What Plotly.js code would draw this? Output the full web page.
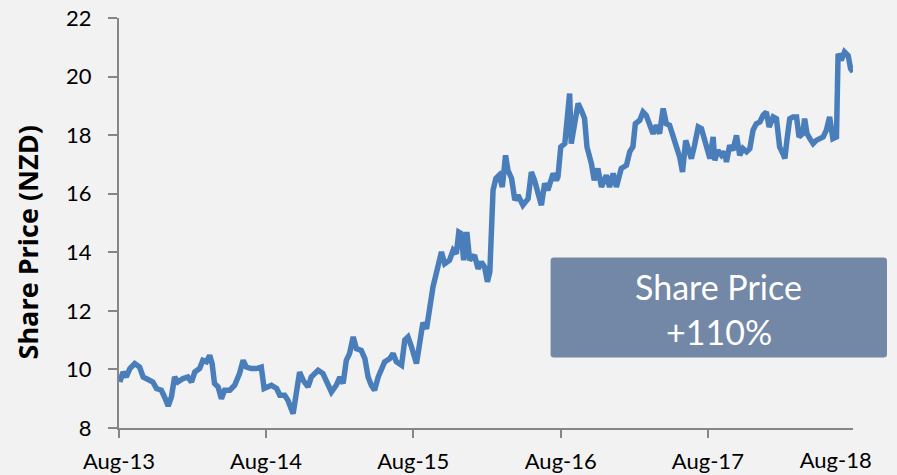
<!DOCTYPE html>
<html>
<head>
<meta charset="utf-8">
<script src="https://cdn.plot.ly/plotly-3.0.1.min.js"></script>
<style>html,body{margin:0;padding:0;background:#f2f2f2;}#chart{width:897px;height:475px;}</style>
</head>
<body>
<div id="chart"></div>
<script>
const dates = [
"2013-08-03","2013-08-11","2013-08-19","2013-08-28","2013-09-09","2013-09-21","2013-09-30","2013-10-12","2013-10-24","2013-11-02",
"2013-11-14","2013-11-22","2013-12-01","2013-12-09","2013-12-17","2013-12-25","2014-01-07","2014-01-19","2014-01-28","2014-02-05",
"2014-02-17","2014-02-25","2014-03-06","2014-03-14","2014-03-20","2014-03-26","2014-04-04","2014-04-12","2014-04-20","2014-05-03",
"2014-05-15","2014-05-27","2014-06-05","2014-06-13","2014-06-25","2014-07-08","2014-07-20","2014-07-27","2014-08-06","2014-08-14",
"2014-08-27","2014-09-04","2014-09-16","2014-09-24","2014-10-07","2014-10-15","2014-10-23","2014-11-01","2014-11-13","2014-11-21",
"2014-12-08","2014-12-20","2014-12-29","2015-01-10","2015-01-22","2015-01-31","2015-02-08","2015-02-16","2015-02-24","2015-03-05",
"2015-03-13","2015-03-25","2015-04-03","2015-04-11","2015-04-19","2015-04-27","2015-05-06","2015-05-14","2015-05-22","2015-06-04",
"2015-06-12","2015-06-20","2015-07-03","2015-07-11","2015-07-19","2015-07-27","2015-08-09","2015-08-17","2015-08-25","2015-09-03",
"2015-09-11","2015-09-19","2015-09-27","2015-10-06","2015-10-10","2015-10-18","2015-10-30","2015-11-08","2015-11-16","2015-11-22",
"2015-11-28","2015-12-04","2015-12-12","2015-12-19","2015-12-31","2016-01-09","2016-01-17","2016-01-25","2016-02-01","2016-02-07",
"2016-02-11","2016-02-15","2016-02-22","2016-03-01","2016-03-09","2016-03-17","2016-03-23","2016-04-01","2016-04-09","2016-04-17",
"2016-04-29","2016-05-12","2016-05-20","2016-05-28","2016-06-06","2016-06-14","2016-06-22","2016-06-30","2016-07-13","2016-07-21",
"2016-07-25","2016-08-01","2016-08-11","2016-08-18","2016-08-23","2016-08-27","2016-09-05","2016-09-13","2016-09-21","2016-09-29",
"2016-10-05","2016-10-16","2016-10-23","2016-11-01","2016-11-10","2016-11-22","2016-11-30","2016-12-09","2016-12-17","2016-12-29",
"2017-01-11","2017-01-19","2017-01-27","2017-02-02","2017-02-13","2017-02-21","2017-03-01","2017-03-10","2017-03-18","2017-03-26",
"2017-04-03","2017-04-12","2017-04-20","2017-04-28","2017-05-06","2017-05-15","2017-05-23","2017-05-30","2017-06-07","2017-06-13",
"2017-06-21","2017-06-29","2017-07-08","2017-07-16","2017-07-24","2017-07-28","2017-08-06","2017-08-14","2017-08-18","2017-08-26",
"2017-09-04","2017-09-12","2017-09-16","2017-09-24","2017-10-02","2017-10-11","2017-10-19","2017-10-27","2017-11-05","2017-11-13",
"2017-11-21","2017-11-29","2017-12-08","2017-12-16","2017-12-24","2017-12-31","2018-01-10","2018-01-18","2018-01-26","2018-02-03",
"2018-02-08","2018-02-13","2018-02-20","2018-02-28","2018-03-09","2018-03-15","2018-03-24","2018-03-29","2018-04-04","2018-04-11",
"2018-04-19","2018-04-27","2018-05-05","2018-05-14","2018-05-22","2018-05-30","2018-06-07","2018-06-16","2018-06-20","2018-06-28",
"2018-07-06","2018-07-15","2018-07-21","2018-07-27"
];
const sharePrice = [
9.57,9.91,9.74,10.03,10.2,10.08,9.74,9.63,9.57,9.35,
9.29,9.06,8.75,9.06,9.74,9.57,9.69,9.74,9.57,9.91,
10.03,10.31,10.26,10.48,10.2,9.52,9.4,9.0,9.29,9.29,
9.46,9.86,10.31,10.08,10.03,10.03,10.08,9.35,9.4,9.46,
9.35,9.12,9.12,8.95,8.49,9.29,9.91,9.63,9.4,9.74,
9.97,9.86,9.57,9.23,9.46,9.74,9.52,10.31,10.54,11.11,
10.71,10.65,10.37,9.74,9.46,9.29,9.74,10.03,10.26,10.37,
10.54,10.26,10.14,11.0,11.11,10.8,10.2,10.9,11.6,11.39,
12.13,12.82,13.27,13.84,14.01,13.61,13.73,14.07,13.95,14.69,
14.64,13.73,14.69,13.73,13.9,13.44,13.67,13.5,12.99,13.33,
15.32,16.12,16.52,16.63,16.23,17.31,16.8,16.52,15.78,15.95,
15.61,15.83,16.74,16.46,16.0,15.61,16.35,16.12,16.69,16.46,
16.57,17.6,17.71,18.68,19.42,17.71,18.62,19.08,18.85,18.57,
17.6,17.03,16.46,16.86,16.23,16.63,16.23,16.69,16.23,16.86,
16.97,17.43,17.6,18.39,18.51,18.79,18.68,18.28,18.05,18.34,
18.05,18.91,18.39,18.34,18.05,17.6,17.26,16.74,17.82,17.6,
17.2,17.66,18.28,18.22,17.88,17.65,17.2,17.94,17.14,17.48,
17.31,17.43,17.08,17.65,17.48,17.99,17.31,17.54,17.43,17.54,
18.17,18.39,18.45,18.68,18.79,18.28,18.62,18.56,17.6,17.37,
17.2,17.82,18.56,18.62,18.62,17.94,18.05,18.56,18.05,17.88,
17.71,17.82,17.88,17.94,18.17,18.62,17.88,17.94,20.78,20.56,
20.84,20.72,20.27,20.16
];
const xTickDates = ["2013-08-01","2014-08-01","2015-08-01","2016-08-01","2017-08-01"];
const xTickLabels = ["Aug-13","Aug-14","Aug-15","Aug-16","Aug-17"];
const lastTickDate = ["2018-06-14"];
const lastTickLabel = ["Aug-18"];
const yTicks = [8,10,12,14,16,18,20,22];
const yTitle = "Share Price (NZD)";
const boxLines = ["Share Price","+110%"];

const axisColor = "#868686";
const fontFam = "Lato, 'Open Sans', sans-serif";
const titleFam = "'Open Sans', Lato, sans-serif";

const trace = {
  x: dates, y: sharePrice, type: "scatter", mode: "lines",
  line: {color: "#4a7ebb", width: 5.5}, hoverinfo: "skip"
};
const dummy = {x: [dates[0]], y: [null], xaxis: "x2", yaxis: "y", type: "scatter", mode: "lines", showlegend: false, hoverinfo: "skip"};

// rounded box (paper coords)
const bx0 = 0.588, bx1 = 1.0463, by0 = 0.1717, by1 = 0.4156, rx = 0.0045, ry = 0.008;
const boxPath = `M ${bx0+rx},${by0} L ${bx1-rx},${by0} Q ${bx1},${by0} ${bx1},${by0+ry} L ${bx1},${by1-ry} Q ${bx1},${by1} ${bx1-rx},${by1} L ${bx0+rx},${by1} Q ${bx0},${by1} ${bx0},${by1-ry} L ${bx0},${by0+ry} Q ${bx0},${by0} ${bx0+rx},${by0} Z`;

const layout = {
  width: 897, height: 475,
  margin: {l: 119, r: 44, t: 18, b: 47},
  paper_bgcolor: "#f2f2f2", plot_bgcolor: "#f2f2f2",
  showlegend: false,
  font: {family: fontFam, color: "#000", size: 22},
  xaxis: {
    type: "date", range: ["2013-08-01", "2018-07-27"],
    tickvals: xTickDates, ticktext: xTickLabels,
    showgrid: false, zeroline: false,
    showline: true, linecolor: axisColor, linewidth: 2,
    ticks: "outside", ticklen: 8, tickwidth: 2, tickcolor: axisColor,
    ticklabelstandoff: 5,
    tickfont: {family: fontFam, size: 22, color: "#000"}
  },
  xaxis2: {
    type: "date", matches: "x", overlaying: "x", anchor: "y", side: "bottom",
    tickvals: lastTickDate, ticktext: lastTickLabel,
    showgrid: false, zeroline: false, showline: false,
    ticks: "outside", ticklen: 8, tickwidth: 2, tickcolor: "rgba(0,0,0,0)",
    ticklabelstandoff: 5,
    tickfont: {family: fontFam, size: 22, color: "#000"}
  },
  yaxis: {
    range: [8, 22], tickvals: yTicks,
    showgrid: false, zeroline: false,
    showline: true, linecolor: axisColor, linewidth: 2,
    ticks: "outside", ticklen: 9, tickwidth: 2, tickcolor: axisColor,
    ticklabelstandoff: 12,
    tickfont: {family: fontFam, size: 22, color: "#000"}
  },
  shapes: [{
    type: "path", xref: "paper", yref: "paper", path: boxPath,
    fillcolor: "#7387a6", line: {width: 0}, layer: "above"
  }],
  annotations: [
    {xref: "paper", yref: "paper", x: -0.1244, y: 0.4517, xanchor: "center", yanchor: "middle",
     textangle: -90, text: yTitle, showarrow: false,
     font: {family: titleFam, size: 27, color: "#000", weight: "bold"}},
    {xref: "paper", yref: "paper", x: 0.817, y: 0.3456, xanchor: "center", yanchor: "middle",
     text: boxLines[0], showarrow: false, font: {family: fontFam, size: 34, color: "#ffffff"}},
    {xref: "paper", yref: "paper", x: 0.817, y: 0.2359, xanchor: "center", yanchor: "middle",
     text: boxLines[1], showarrow: false, font: {family: fontFam, size: 34, color: "#ffffff"}}
  ]
};

Plotly.newPlot("chart", [trace, dummy], layout, {displayModeBar: false, staticPlot: true});
</script>
</body>
</html>
